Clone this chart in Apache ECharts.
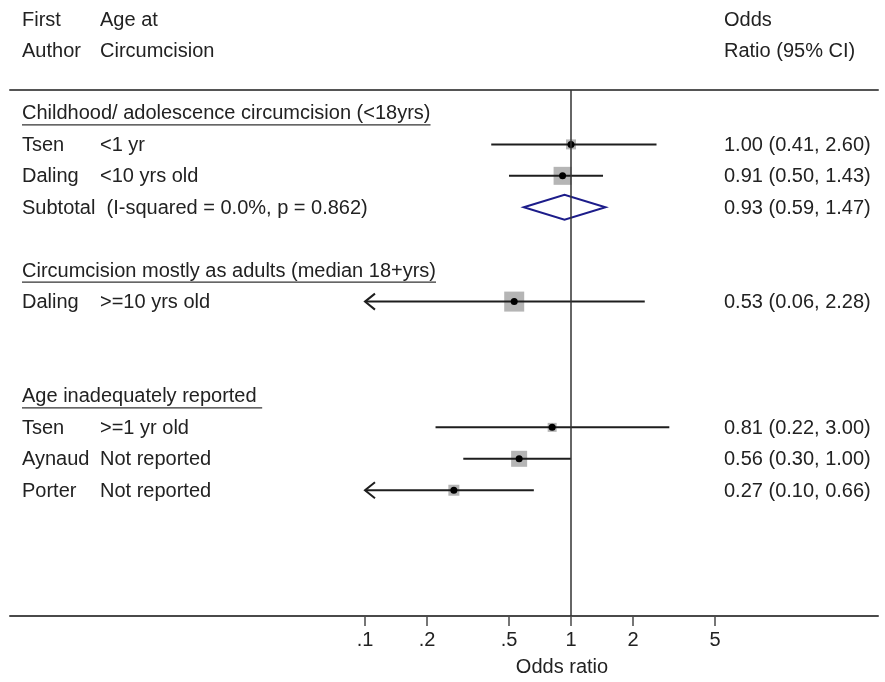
<!DOCTYPE html>
<html><head><meta charset="utf-8">
<script src="https://cdn.jsdelivr.net/npm/echarts@6/dist/echarts.min.js"></script>
<style>html,body{margin:0;padding:0;background:#fff}#c{width:885px;height:682px}</style>
</head><body><div id="c"></div>
<script>
// ---------- data ----------
const headerRow1 = ['First', 'Age at', 'Odds'];
const headerRow2 = ['Author', 'Circumcision', 'Ratio (95% CI)'];
const groupTitles = ['Childhood/ adolescence circumcision (<18yrs)', 'Circumcision mostly as adults (median 18+yrs)', 'Age inadequately reported '];
const studyGroup = [0, 0, 1, 2, 2, 2];
const studyAuthor = ['Tsen', 'Daling', 'Daling', 'Tsen', 'Aynaud', 'Porter'];
const studyAge = ['<1 yr', '<10 yrs old', '>=10 yrs old', '>=1 yr old', 'Not reported', 'Not reported'];
const studyOR = [1.00, 0.91, 0.53, 0.81, 0.56, 0.27];
const studyLower = [0.41, 0.50, 0.06, 0.22, 0.30, 0.10];
const studyUpper = [2.60, 1.43, 2.28, 3.00, 1.00, 0.66];
const studyWeight = [7.8, 25.3, 31.2, 6.3, 20.0, 9.4];
const subtotalGroup = [0];
const subtotalLabel = ['Subtotal  (I-squared = 0.0%, p = 0.862)'];
const subtotalOR = [0.93];
const subtotalLower = [0.59];
const subtotalUpper = [1.47];
const tickValues = [0.1, 0.2, 0.5, 1, 2, 5];
const tickLabels = ['.1', '.2', '.5', '1', '2', '5'];
const axisTitle = 'Odds ratio';

// ---------- layout ----------
const FONT = '"Liberation Sans", Arial, sans-serif';
const FS = 20;
const TXT = '#222';
const COL1 = 22, COL2 = 100, COL3 = 724;
const xMin = -2.723, xMax = 1.49;
const yMin = -0.73, yMax = 16;
const clipMinLog = Math.log10(tickValues[0]);
const clipMaxLog = Math.log10(tickValues[tickValues.length - 1]);
const boxScale = 20 / Math.sqrt(31.2);
const L = v => Math.log10(v);
const fmt = (o, l, u) => o.toFixed(2) + ' (' + l.toFixed(2) + ', ' + u.toFixed(2) + ')';

// row assignment: heading, studies, subtotal slot, blank
const headingRow = [], studyRow = [], subtotalRow = {};
let r = 0;
groupTitles.forEach((t, g) => {
  headingRow[g] = r++;
  studyGroup.forEach((sg, i) => { if (sg === g) studyRow[i] = r++; });
  subtotalRow[g] = r++;
  r++;
});

const measureCtx = document.createElement('canvas').getContext('2d');
measureCtx.font = FS + 'px ' + FONT;
const textW = s => measureCtx.measureText(s).width;

function txt(x, y, s, align) {
  return { type: 'text', x: x, y: y + 1, style: { text: s, fontSize: FS, fontFamily: FONT, fill: TXT, align: align || 'left', verticalAlign: 'middle' } };
}

const headingData = groupTitles.map((t, g) => [0, headingRow[g], g]);
const studyData = studyOR.map((o, i) => [L(o), studyRow[i], L(studyLower[i]), L(studyUpper[i]), studyWeight[i], i]);
const subData = subtotalOR.map((o, k) => [L(o), subtotalRow[subtotalGroup[k]], L(subtotalLower[k]), L(subtotalUpper[k]), k]);

const chart = echarts.init(document.getElementById('c'), null, { renderer: 'canvas' });
chart.setOption({
  animation: false,
  backgroundColor: '#fff',
  grid: { left: 10, right: 7, top: 90, bottom: 66, containLabel: false, outerBoundsMode: 'none' },
  xAxis: [{
    type: 'value', min: xMin, max: xMax, position: 'bottom',
    axisLine: { show: true, onZero: false, lineStyle: { color: '#4a4a4a', width: 2 } },
    axisTick: { show: true, length: 10, lineStyle: { color: '#4a4a4a', width: 1.5 }, customValues: tickValues.map(L) },
    axisLabel: {
      show: true, margin: 14, fontSize: FS, fontFamily: FONT, color: TXT,
      customValues: tickValues.map(L),
      formatter: v => { const k = tickValues.findIndex(t => Math.abs(L(t) - v) < 1e-6); return k >= 0 ? tickLabels[k] : ''; }
    },
    splitLine: { show: false }
  }, {
    type: 'value', min: xMin, max: xMax, position: 'top',
    axisLine: { show: true, onZero: false, lineStyle: { color: '#555', width: 2 } },
    axisTick: { show: false }, axisLabel: { show: false }, splitLine: { show: false }
  }],
  yAxis: { type: 'value', inverse: true, min: yMin, max: yMax, show: false, splitLine: { show: false } },
  graphic: [
    txt(COL1, 19, headerRow1[0]), txt(COL2, 19, headerRow1[1]), txt(COL3, 19, headerRow1[2]),
    txt(COL1, 50.5, headerRow2[0]), txt(COL2, 50.5, headerRow2[1]), txt(COL3, 50.5, headerRow2[2]),
    txt(562, 666, axisTitle, 'center')
  ],
  series: [{
    type: 'custom', name: 'headings', clip: false, silent: true,
    data: headingData, encode: { x: 0, y: 1 },
    renderItem: (params, api) => {
      const g = api.value(2);
      const y = api.coord([0, api.value(1)])[1];
      const w = textW(groupTitles[g]);
      return { type: 'group', children: [
        txt(COL1, y, groupTitles[g]),
        { type: 'line', shape: { x1: COL1, y1: y + 12, x2: COL1 + w, y2: y + 12 }, style: { stroke: '#333', lineWidth: 1.3 } }
      ] };
    }
  }, {
    type: 'custom', name: 'studies', clip: false, silent: true,
    data: studyData, encode: { x: [0, 2, 3], y: 1 },
    renderItem: (params, api) => {
      const i = api.value(5), row = api.value(1);
      const c = api.coord([api.value(0), row]);
      const lo = api.value(2), hi = api.value(3);
      const clipped = lo <= clipMinLog + 1e-9;
      const pL = api.coord([Math.max(lo, clipMinLog), row]);
      const pH = api.coord([Math.min(hi, clipMaxLog), row]);
      const s = boxScale * Math.sqrt(api.value(4));
      const ch = [
        { type: 'rect', shape: { x: c[0] - s / 2, y: c[1] - s / 2, width: s, height: s }, style: { fill: '#b5b5b5' } },
        { type: 'line', shape: { x1: pL[0], y1: pL[1], x2: pH[0], y2: pH[1] }, style: { stroke: '#1e1e1e', lineWidth: 2 } },
        { type: 'circle', shape: { cx: c[0], cy: c[1], r: 3.5 }, style: { fill: '#000' } },
        txt(COL1, c[1], studyAuthor[i]),
        txt(COL2, c[1], studyAge[i]),
        txt(COL3, c[1], fmt(studyOR[i], studyLower[i], studyUpper[i]))
      ];
      if (clipped) ch.push({ type: 'polyline', shape: { points: [[pL[0] + 10, pL[1] - 8], [pL[0], pL[1]], [pL[0] + 10, pL[1] + 8]] }, style: { stroke: '#1e1e1e', lineWidth: 2, fill: 'none' } });
      return { type: 'group', children: ch };
    },
    markLine: {
      silent: true, symbol: ['none', 'none'], label: { show: false },
      lineStyle: { color: '#333', width: 1.5, type: 'solid' },
      data: [{ xAxis: 0 }]
    }
  }, {
    type: 'custom', name: 'subtotal', clip: false, silent: true,
    data: subData, encode: { x: [0, 2, 3], y: 1 },
    renderItem: (params, api) => {
      const k = api.value(4), row = api.value(1);
      const c = api.coord([api.value(0), row]);
      const pL = api.coord([api.value(2), row]);
      const pH = api.coord([api.value(3), row]);
      const h = 12.5;
      return { type: 'group', children: [
        { type: 'polygon', shape: { points: [[pL[0], c[1]], [c[0], c[1] - h], [pH[0], c[1]], [c[0], c[1] + h]] }, style: { fill: '#fff', stroke: '#1c1c8a', lineWidth: 2 } },
        txt(COL1, c[1], subtotalLabel[k]),
        txt(COL3, c[1], fmt(subtotalOR[k], subtotalLower[k], subtotalUpper[k]))
      ] };
    }
  }]
});
</script></body></html>
